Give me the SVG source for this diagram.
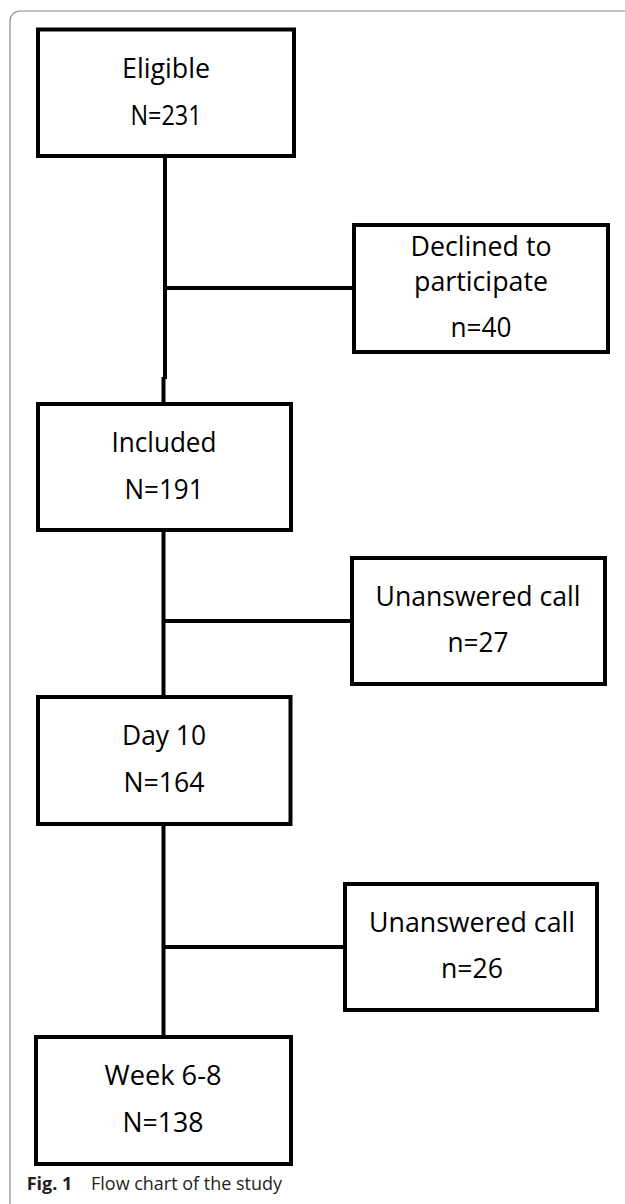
<svg xmlns="http://www.w3.org/2000/svg" width="625" height="1204" viewBox="0 0 625 1204">
<style>
.box{fill:#fff;stroke:#000;stroke-width:4}
.conn{fill:none;stroke:#000;stroke-width:4}
.t{font-family:"Open Sans","Noto Sans","Liberation Sans",sans-serif;font-size:27px;fill:#000;text-anchor:middle}
.cap{font-family:"Open Sans","Noto Sans","Liberation Sans",sans-serif;font-size:18px;fill:#231f20}
</style>
<rect width="625" height="1204" fill="#fff"/>
<path d="M10,1204 V21 A10,10 0 0 1 20,11 H625" fill="none" stroke="#8a8a8a" stroke-width="1.2"/>
<g id="connectors">
<path class="conn" d="M165,156 V379"/>
<path class="conn" d="M163.5,377 V404"/>
<path class="conn" d="M163,288 H354"/>
<path class="conn" d="M163.5,530 V697"/>
<path class="conn" d="M163,621 H352"/>
<path class="conn" d="M163.5,824 V1037"/>
<path class="conn" d="M163,947 H345"/>
</g>
<g id="eligible">
<rect class="box" x="38" y="29.5" width="256" height="126.5"/>
<text class="t" x="166" y="78.3" textLength="88" lengthAdjust="spacingAndGlyphs">Eligible</text>
<text class="t" x="166" y="125" textLength="71" lengthAdjust="spacingAndGlyphs">N=231</text>
</g>
<g id="declined">
<rect class="box" x="354" y="225" width="254" height="127"/>
<text class="t" x="481" y="256" textLength="141" lengthAdjust="spacingAndGlyphs">Declined to</text>
<text class="t" x="481" y="291" textLength="134" lengthAdjust="spacingAndGlyphs">participate</text>
<text class="t" x="481" y="337" textLength="61" lengthAdjust="spacingAndGlyphs">n=40</text>
</g>
<g id="included">
<rect class="box" x="38" y="404" width="253" height="126"/>
<text class="t" x="164" y="452" textLength="105" lengthAdjust="spacingAndGlyphs">Included</text>
<text class="t" x="164" y="499" textLength="79" lengthAdjust="spacingAndGlyphs">N=191</text>
</g>
<g id="unanswered1">
<rect class="box" x="352" y="558" width="253" height="126"/>
<text class="t" x="478" y="605.5" textLength="205" lengthAdjust="spacingAndGlyphs">Unanswered call</text>
<text class="t" x="478" y="652" textLength="61" lengthAdjust="spacingAndGlyphs">n=27</text>
</g>
<g id="day10">
<rect class="box" x="38" y="697" width="252.5" height="127"/>
<text class="t" x="164" y="745" textLength="84" lengthAdjust="spacingAndGlyphs">Day 10</text>
<text class="t" x="164" y="792" textLength="81" lengthAdjust="spacingAndGlyphs">N=164</text>
</g>
<g id="unanswered2">
<rect class="box" x="345" y="884" width="252" height="126"/>
<text class="t" x="472" y="932" textLength="206" lengthAdjust="spacingAndGlyphs">Unanswered call</text>
<text class="t" x="472" y="978" textLength="62" lengthAdjust="spacingAndGlyphs">n=26</text>
</g>
<g id="week68">
<rect class="box" x="36" y="1037" width="255" height="127"/>
<text class="t" x="163" y="1085" textLength="117" lengthAdjust="spacingAndGlyphs">Week 6-8</text>
<text class="t" x="163" y="1132" textLength="81" lengthAdjust="spacingAndGlyphs">N=138</text>
</g>
<g id="caption">
<text class="cap" x="26.7" y="1190" font-weight="bold">Fig. 1</text>
<text class="cap" x="91" y="1190" textLength="191" lengthAdjust="spacingAndGlyphs">Flow chart of the study</text>
</g>
</svg>
